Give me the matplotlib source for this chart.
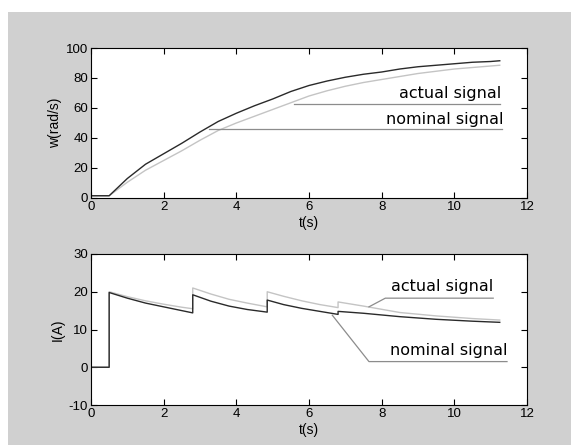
import matplotlib
matplotlib.use('Agg')
import matplotlib.pyplot as plt
from matplotlib.patches import Rectangle

plt.rcParams['axes.unicode_minus'] = False

# speed w(rad/s)
t_w = [0, 0.5, 1, 1.5, 2, 2.5, 3, 3.5, 4, 4.5, 5, 5.5, 6, 6.5, 7, 7.5, 8, 8.5, 9, 9.5, 10, 10.5, 11, 11.25]
w_actual = [1.5, 1.5, 13, 22.5, 29.5, 36.5, 44, 51, 56.5, 61.5, 66, 71, 75, 78, 80.5, 82.5, 84, 86, 87.5, 88.5, 89.5, 90.5, 91, 91.5]
w_nominal = [1.5, 1.5, 10.5, 18.5, 25, 31.5, 38.5, 45, 50, 54.5, 59, 63.5, 68, 71.5, 74.5, 77, 79, 81, 83, 84.5, 86, 87, 88, 88.5]

# current I(A)
t_i = [0, 0.5, 0.5, 1.0, 1.5, 2.0, 2.5, 2.8, 2.8, 3.3, 3.8, 4.3, 4.85, 4.85, 5.3, 5.8, 6.3, 6.8, 6.8,
       7.5, 8.5, 9.5, 10.5, 11.25]
i_actual = [0, 0, 19.8, 18.3, 17.0, 16.0, 15.0, 14.4, 19.2, 17.5, 16.2, 15.3, 14.6, 17.8, 16.6, 15.6, 14.8, 14.0, 14.8,
            14.3, 13.4, 12.7, 12.2, 11.9]
i_nominal = [0, 0, 20.0, 18.7, 17.6, 16.7, 15.9, 15.5, 21.0, 19.4, 18.0, 17.0, 16.0, 20.0, 18.8, 17.6, 16.6, 15.8, 17.3,
             16.2, 14.5, 13.6, 12.9, 12.5]

x_ticks = [0, 2, 4, 6, 8, 10, 12]
w_ticks = [0, 20, 40, 60, 80, 100]
i_ticks = [-10, 0, 10, 20, 30]

# callouts: (label, line x, line y, text x, text y)
w_callouts = [
    ('actual signal', [5.6, 11.25], [63, 63], 11.3, 64.5),
    ('nominal signal', [3.25, 11.3], [46, 46], 11.35, 47.5),
]
i_callouts = [
    ('actual signal', [7.65, 8.1, 11.07], [16.0, 18.3, 18.3], 11.07, 19.5),
    ('nominal signal', [6.64, 7.65, 11.45], [13.8, 1.5, 1.5], 11.45, 2.4),
]

dark = '#2a2a2a'
light = '#c4c4c4'
callout_col = '#8c8c8c'
small = 'Liberation Sans'

fig = plt.figure(figsize=(5.71, 4.45), dpi=100, facecolor='white')
bg = Rectangle((8 / 571, 0), 1, 1 - 12 / 445, transform=fig.transFigure,
               facecolor='#d0d0d0', edgecolor='none', zorder=-10)
fig.add_artist(bg)

ax1 = fig.add_axes([91 / 571, (445 - 198) / 445, 436 / 571, 150 / 445])
ax2 = fig.add_axes([91 / 571, (445 - 405) / 445, 436 / 571, 151 / 445])


def style(ax, yticks):
    ax.set_xlim(0, 12)
    ax.set_ylim(yticks[0], yticks[-1])
    ax.set_xticks(x_ticks)
    ax.set_yticks(yticks)
    ax.tick_params(direction='in', length=4, width=0.8, top=True, right=True, pad=2, labelsize=9.5)
    for lab in ax.get_xticklabels() + ax.get_yticklabels():
        lab.set_family(small)
    for s in ax.spines.values():
        s.set_linewidth(0.8)
    ax.set_facecolor('white')


ax1.plot(t_w, w_nominal, color=light, lw=1.0)
ax1.plot(t_w, w_actual, color=dark, lw=1.0)
style(ax1, w_ticks)
ax1.set_xlabel('t(s)', family=small, fontsize=10, labelpad=2)
ax1.set_ylabel('w(rad/s)', family=small, fontsize=10, labelpad=3)
for label, xs, ys, tx, ty in w_callouts:
    ax1.plot(xs, ys, color=callout_col, lw=0.9)
    ax1.text(tx, ty, label, ha='right', va='bottom', fontsize=11.5, family='DejaVu Sans')

ax2.plot(t_i, i_nominal, color=light, lw=1.0)
ax2.plot(t_i, i_actual, color=dark, lw=1.0)
style(ax2, i_ticks)
ax2.set_xlabel('t(s)', family=small, fontsize=10, labelpad=2)
ax2.set_ylabel('I(A)', family=small, fontsize=10, labelpad=3)
for label, xs, ys, tx, ty in i_callouts:
    ax2.plot(xs, ys, color=callout_col, lw=0.9)
    ax2.text(tx, ty, label, ha='right', va='bottom', fontsize=11.5, family='DejaVu Sans')

fig.savefig('out.png', dpi=100, facecolor=fig.get_facecolor())
